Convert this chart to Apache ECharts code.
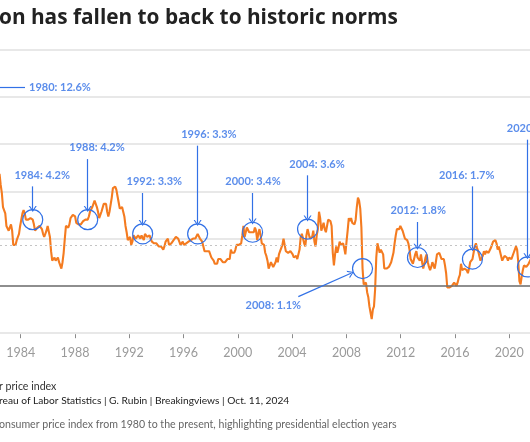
<!DOCTYPE html>
<html><head><meta charset="utf-8">
<script src="https://cdn.jsdelivr.net/npm/echarts@6/dist/echarts.min.js"></script>
<style>html,body{margin:0;padding:0;background:#fff}#c{width:530px;height:442px}</style>
</head><body><div id="c"></div>
<script>
// US CPI, year-over-year % change, monthly (Jan..Dec)
const cpi1980s = [
 13.9,14.2,14.8,14.7,14.4,14.4,13.1,12.9,12.6,12.8,12.6,12.5,
 11.8,11.4,10.5,10.0,9.8,9.6,10.8,10.8,11.0,10.1,9.6,8.9,
 8.4,7.6,6.8,6.5,6.7,7.1,6.4,5.9,5.0,5.1,4.6,3.8,
 3.7,3.5,3.6,3.9,3.5,2.6,2.5,2.6,2.9,2.9,3.3,3.8,
 4.2,4.6,4.8,4.6,4.2,4.2,4.2,4.3,4.3,4.3,4.2,3.9,
 3.5,3.5,3.7,3.7,3.8,3.8,3.6,3.3,3.1,3.2,3.5,3.8,
 3.9,3.1,2.2,1.6,1.5,1.8,1.6,1.6,1.8,1.5,1.3,1.1,
 1.5,2.1,3.0,3.8,3.9,3.7,3.9,4.3,4.4,4.5,4.5,4.4,
 4.0,3.9,3.9,3.9,3.9,4.0,4.1,4.0,4.2,4.2,4.2,4.4,
 4.7,4.8,5.0,5.1,5.4,5.2,5.0,4.7,4.3,4.5,4.7,4.6
];
const cpi1990s = [
 5.2,5.3,5.2,4.7,4.4,4.7,4.8,5.6,6.2,6.3,6.3,6.1,
 5.7,5.3,4.9,4.9,5.0,4.7,4.4,3.8,3.4,2.9,3.0,3.1,
 2.6,2.8,3.2,3.2,3.0,3.1,3.2,3.1,3.0,3.2,3.3,2.9,
 3.3,3.2,3.1,3.2,3.2,3.0,2.8,2.8,2.7,2.8,2.7,2.7,
 2.5,2.5,2.5,2.4,2.3,2.5,2.8,2.9,3.0,2.6,2.7,2.7,
 2.8,2.9,2.9,3.1,3.2,3.0,2.8,2.6,2.5,2.8,2.6,2.5,
 2.7,2.7,2.8,2.9,2.9,2.8,3.0,2.9,3.0,3.0,3.3,3.3,
 3.0,3.0,2.8,2.5,2.2,2.3,2.2,2.2,2.2,2.1,1.8,1.7,
 1.6,1.4,1.4,1.4,1.7,1.7,1.7,1.6,1.5,1.5,1.5,1.6,
 1.7,1.6,1.7,2.3,2.1,2.0,2.1,2.3,2.6,2.6,2.6,2.7
];
const cpi2000s = [
 2.7,3.2,3.8,3.1,3.2,3.7,3.7,3.4,3.5,3.4,3.4,3.4,
 3.7,3.5,2.9,3.3,3.6,3.2,2.7,2.7,2.6,2.1,1.9,1.6,
 1.1,1.1,1.5,1.6,1.2,1.1,1.5,1.8,1.5,2.0,2.2,2.4,
 2.6,3.0,3.0,2.2,2.1,2.1,2.1,2.2,2.3,2.0,1.8,1.9,
 1.9,1.7,1.7,2.3,3.1,3.3,3.0,2.7,2.5,3.2,3.6,3.3,
 3.0,3.0,3.1,3.5,2.8,2.5,3.2,3.6,4.7,4.3,3.5,3.4,
 4.0,3.6,3.4,3.5,4.2,4.3,4.1,3.8,2.1,1.3,2.0,2.5,
 2.1,2.4,2.8,2.6,2.7,2.7,2.4,2.0,2.8,3.5,4.3,4.1,
 4.3,4.0,4.0,3.9,4.2,5.0,5.6,5.4,4.9,3.7,1.1,0.1,
 0.0,0.2,-0.4,-0.7,-1.3,-1.4,-2.1,-1.5,-1.3,-0.2,1.8,2.7
];
const cpi2010s = [
 2.6,2.1,2.3,2.2,2.0,1.1,1.2,1.1,1.1,1.2,1.1,1.5,
 1.6,2.1,2.7,3.2,3.6,3.6,3.6,3.8,3.9,3.5,3.4,3.0,
 2.9,2.9,2.7,2.3,1.7,1.7,1.4,1.7,2.0,2.2,1.8,1.7,
 1.6,2.0,1.5,1.1,1.4,1.8,2.0,1.5,1.2,1.0,1.2,1.5,
 1.6,1.1,1.5,2.0,2.1,2.1,2.0,1.7,1.7,1.7,1.3,0.8,
 -0.1,0.0,-0.1,-0.2,0.0,0.1,0.2,0.2,0.0,0.2,0.5,0.7,
 1.4,1.0,0.9,1.1,1.0,1.0,0.8,1.1,1.5,1.6,1.7,2.1,
 2.5,2.7,2.4,2.2,1.9,1.6,1.7,1.9,2.2,2.0,2.2,2.1,
 2.1,2.2,2.4,2.5,2.8,2.9,2.9,2.7,2.3,2.5,2.2,1.9,
 1.6,1.5,1.9,2.0,1.8,1.6,1.8,1.7,1.7,1.8,2.1,2.3
];
const cpi2020s = [
 2.5,2.3,1.5,0.3,0.1,0.6,1.0,1.3,1.4,1.2,1.2,1.4,
 1.4,1.7,2.6,4.2,5.0,5.4,5.4,5.3,5.4,6.2,6.8,7.0,
 7.5,7.9,8.5,8.3,8.6,9.1,8.5,8.3,8.2,7.7,7.1,6.5,
 6.4,6.0,5.0,4.9,4.0,3.0,3.2,3.7,3.7,3.2,3.1,3.4,
 3.1,3.2,3.5,3.4,3.3,3.0,2.9,2.5,2.4
];
const startYear = 1980;

// Presidential election years (November readings)
const electionYears = [1984, 1988, 1992, 1996, 2000, 2004, 2008, 2012, 2016, 2020];
const electionValues = [4.2, 4.2, 3.3, 3.3, 3.4, 3.6, 1.1, 1.8, 1.7, 1.2];
const peakYear = 1980, peakValue = 12.6;
const tickYears = [1984, 1988, 1992, 1996, 2000, 2004, 2008, 2012, 2016, 2020];
const refValue = 2.6;

// visible window of the (cropped) chart
const xMin = 1982.45, xMax = 2021.02;      // data axis
const tMin = 1982.475, tMax = 2021.53;     // tick axis

// annotation label placement (value-axis units / year units)
const labelY  = [7.03, 8.76, 6.61, 9.61, 6.61, 7.73, -1.27, 4.77, 7.03, 9.99];
const labelX  = [1985.52, 1989.51, 1993.68, 1997.65, 2000.86, 2005.52, 2002.34, 2012.89, 2016.42, 2019.33];

const BLUE = '#3271e6';
const ORANGE = '#f47b20';
const MONTH_NOV = 10/12;

const all = [].concat(cpi1980s, cpi1990s, cpi2000s, cpi2010s, cpi2020s);
const lineData = all.map((v, i) => [startYear + i/12, v]);

const circles = electionYears.map((y, i) => ({coord: [y + MONTH_NOV, electionValues[i]]}));
const chevron = 'path://M0,10 L5,0 L10,10 L8.4,10 L5,3.2 L1.6,10 Z';
const arrows = electionYears.map((y, i) => {
  const x = y + MONTH_NOV, v = electionValues[i];
  if (y === 2008) {
    return [{coord: [2004.16, -0.68]}, {coord: [2007.99, 0.80]}];
  }
  return [{coord: [x, labelY[i] - 0.72]}, {coord: [x, v + 0.68]}];
});
const labelPts = electionYears.map((y, i) => {
  const o = {value: [labelX[i], labelY[i]], name: y + ': ' + electionValues[i].toFixed(1) + '%'};
  if (y === 2020) o.label = {align: 'left'};
  return o;
});

const chart = echarts.init(document.getElementById('c'), null, {renderer: 'canvas'});
chart.setOption({
  animation: false,
  grid: {left: 0, right: 0, top: 49.3, bottom: 108.8},
  xAxis: [
    {type: 'value', min: xMin, max: xMax, show: false},
    {type: 'value', min: tMin, max: tMax, position: 'bottom', offset: 1,
     axisLine: {show: false}, splitLine: {show: false},
     axisTick: {show: true, length: 4, customValues: tickYears, lineStyle: {color: '#8a8a8a', width: 1}},
     axisLabel: {show: true, margin: 12, color: '#9a9a9a', fontSize: 12.5, fontFamily: 'Lato',
       customValues: tickYears, formatter: v => String(Math.round(v))}}
  ],
  yAxis: {type: 'value', min: -3, max: 15, interval: 3,
    axisLabel: {show: false}, axisLine: {show: false}, axisTick: {show: false},
    splitLine: {lineStyle: {color: '#e1e1e1', width: 1.6}}},
  series: [
    {type: 'line', xAxisIndex: 0, data: lineData, showSymbol: false, symbol: 'none',
     lineStyle: {color: ORANGE, width: 2.1}, z: 3,
     markLine: {silent: true, symbol: ['none', 'none'], label: {show: false},
       data: [
         {yAxis: 0, lineStyle: {color: '#707070', width: 1.7, type: 'solid'}},
         {yAxis: refValue, lineStyle: {color: '#c4c4c4', width: 1, type: [2, 3]}}
       ]}},
    {type: 'line', xAxisIndex: 0, data: [], z: 5,
     markPoint: {silent: true, symbol: 'circle', symbolSize: 20, label: {show: false},
       itemStyle: {color: 'rgba(0,0,0,0)', borderColor: BLUE, borderWidth: 1.2},
       data: circles},
     markLine: {silent: true, symbol: ['none', chevron], symbolSize: [8, 6],
       label: {show: false}, lineStyle: {color: BLUE, width: 1.2, type: 'solid'},
       data: arrows.concat([[{coord: [xMin, peakValue], symbol: 'none'}, {coord: [1984.27, peakValue], symbol: 'none'}]])}},
    {type: 'scatter', xAxisIndex: 0, data: labelPts, symbolSize: 0, z: 6, silent: true, clip: false,
     label: {show: true, position: 'inside', formatter: p => p.name, color: BLUE,
       fontFamily: 'Lato', fontWeight: 'bold', fontSize: 11}},
    {type: 'scatter', xAxisIndex: 0, data: [{value: [1984.27, peakValue], name: peakYear + ': ' + peakValue + '%'}],
     symbolSize: 0, z: 6, silent: true,
     label: {show: true, position: 'right', distance: 4, formatter: p => p.name, color: BLUE,
       fontFamily: 'Lato', fontWeight: 'bold', fontSize: 11}}
  ],
  graphic: [
    {type: 'text', x: -1, y: 18.5, style: {text: 'on has fallen to back to historic norms', fill: '#222',
      font: 'bold 20.8px "Open Sans"', verticalAlign: 'middle'}},
    {type: 'text', x: -1, y: 386.5, style: {text: 'r price index', fill: '#333', font: '10.6px Lato', verticalAlign: 'middle'}},
    {type: 'text', x: -1, y: 400.8, style: {text: 'reau of Labor Statistics | G. Rubin | Breakingviews | Oct. 11, 2024', fill: '#222', font: '10.2px Lato', verticalAlign: 'middle'}},
    {type: 'text', x: -1, y: 424.8, style: {text: 'onsumer price index from 1980 to the present, highlighting presidential election years', fill: '#666', font: '10.6px Lato', verticalAlign: 'middle'}}
  ]
});
</script></body></html>
